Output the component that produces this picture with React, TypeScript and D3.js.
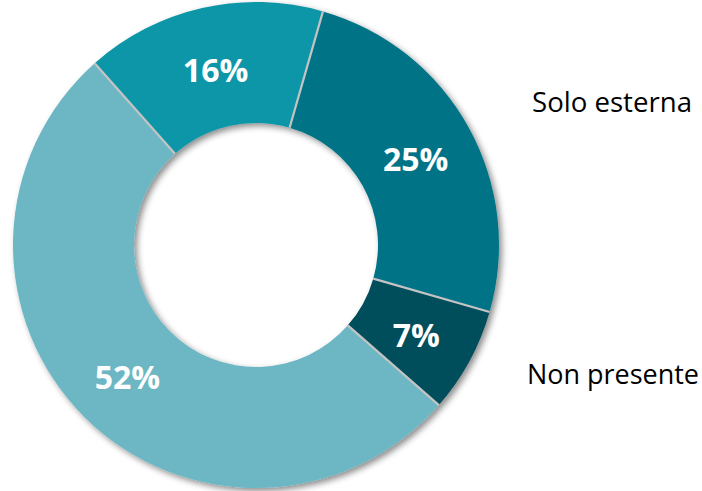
import React from "react";
import * as d3 from "d3";

// Share of each ring segment, clockwise from the first one
const values = [25, 7, 52, 16];
const sliceColors = ["#067386", "#064d5b", "#6db7c4", "#0e96a7"];
const valueLabels = values.map((v) => `${v}%`);

// Legend entries shown to the right of the ring
const legendLabels = ["Solo esterna", "Non presente"];

const WIDTH = 702;
const HEIGHT = 491;
const CX = 256;
const CY = 245;
const OUTER = 243;
const INNER = 122;
const START_DEG = 16;

export default function App() {
  const start = (START_DEG * Math.PI) / 180;
  const pie = d3
    .pie<number>()
    .sort(null)
    .value((d) => d)
    .startAngle(start)
    .endAngle(start + 2 * Math.PI);
  const arcs = pie(values);
  const arc = d3.arc<d3.PieArcDatum<number>>().innerRadius(INNER).outerRadius(OUTER);
  const labelArc = d3
    .arc<d3.PieArcDatum<number>>()
    .innerRadius((INNER + OUTER) / 2)
    .outerRadius((INNER + OUTER) / 2);

  const legendPos = [
    { x: 532, y: 112, w: 160 },
    { x: 527, y: 384, w: 172 },
  ];

  return (
    <svg
      width={WIDTH}
      height={HEIGHT}
      style={{ position: "absolute", left: 0, top: 0, background: "#fff" }}
    >
      <defs>
        <filter id="ringShadow" x="-10%" y="-10%" width="120%" height="120%">
          <feDropShadow dx={3} dy={3} stdDeviation={3.2} floodColor="#000" floodOpacity={0.45} />
        </filter>
      </defs>
      <g transform={`translate(${CX},${CY})`}>
        <g filter="url(#ringShadow)">
          {arcs.map((a, i) => (
            <path key={i} d={arc(a) || ""} fill={sliceColors[i]} />
          ))}
        </g>
        {arcs.map((a, i) => {
          const ang = a.startAngle;
          const sx = Math.sin(ang);
          const sy = -Math.cos(ang);
          return (
            <line
              key={`sep${i}`}
              x1={sx * INNER}
              y1={sy * INNER}
              x2={sx * OUTER}
              y2={sy * OUTER}
              stroke="#c4c4c4"
              strokeWidth={2.2}
            />
          );
        })}
        {arcs.map((a, i) => {
          const [x, y] = labelArc.centroid(a);
          return (
            <text
              key={`lbl${i}`}
              x={x}
              y={y + 2}
              textAnchor="middle"
              dominantBaseline="central"
              fill="#ffffff"
              fontFamily="'Open Sans', sans-serif"
              fontWeight={700}
              fontSize={32}
            >
              {valueLabels[i]}
            </text>
          );
        })}
      </g>
      {legendLabels.map((t, i) => (
        <text
          key={t}
          x={legendPos[i].x}
          y={legendPos[i].y}
          fill="#000"
          fontFamily="'Open Sans', sans-serif"
          fontSize={27}
          textLength={legendPos[i].w}
          lengthAdjust="spacingAndGlyphs"
        >
          {t}
        </text>
      ))}
    </svg>
  );
}
